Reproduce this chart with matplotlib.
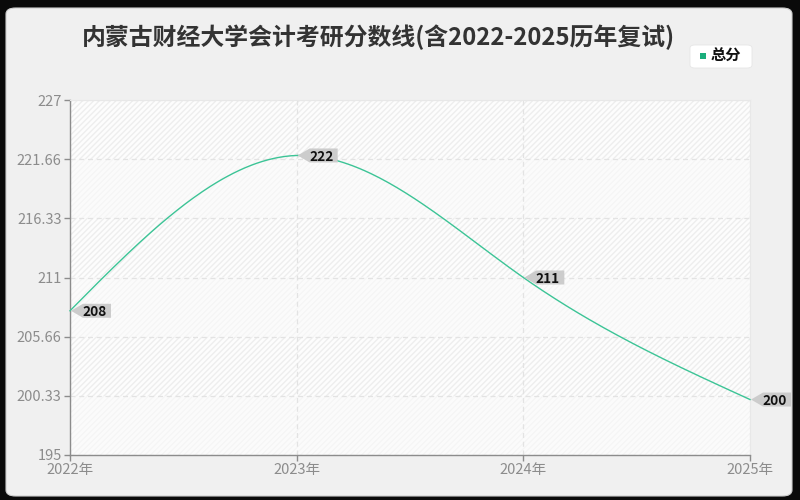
import numpy as np
import matplotlib
matplotlib.use('Agg')
import matplotlib.pyplot as plt
from matplotlib.patches import FancyBboxPatch, Polygon, Rectangle
import matplotlib.transforms as mtransforms

plt.rcParams['font.family'] = ['Noto Sans CJK SC', 'DejaVu Sans']

title = '内蒙古财经大学会计考研分数线(含2022-2025历年复试)'
years = [2022, 2023, 2024, 2025]
year_labels = ['2022年', '2023年', '2024年', '2025年']
scores = [208, 222, 211, 200]
y_ticks = [195, 200.33, 205.66, 211, 216.33, 221.66, 227]
y_tick_labels = ['195', '200.33', '205.66', '211', '216.33', '221.66', '227']
series_name = '总分'

line_color = '#3cc496'
W, H = 800, 500


def natural_spline(xs, ys, num=80):
    xs = np.asarray(xs, float)
    ys = np.asarray(ys, float)
    n = len(xs)
    h = np.diff(xs)
    A = np.zeros((n, n))
    rhs = np.zeros(n)
    A[0, 0] = 1
    A[-1, -1] = 1
    for i in range(1, n - 1):
        A[i, i - 1] = h[i - 1]
        A[i, i] = 2 * (h[i - 1] + h[i])
        A[i, i + 1] = h[i]
        rhs[i] = 6 * ((ys[i + 1] - ys[i]) / h[i] - (ys[i] - ys[i - 1]) / h[i - 1])
    M = np.linalg.solve(A, rhs)
    out_x, out_y = [], []
    for i in range(n - 1):
        t = np.linspace(xs[i], xs[i + 1], num)
        a = xs[i + 1] - t
        b = t - xs[i]
        s = (M[i] * a ** 3 + M[i + 1] * b ** 3) / (6 * h[i]) + \
            (ys[i] / h[i] - M[i] * h[i] / 6) * a + (ys[i + 1] / h[i] - M[i + 1] * h[i] / 6) * b
        out_x.extend(t)
        out_y.extend(s)
    return np.array(out_x), np.array(out_y)


fig = plt.figure(figsize=(8, 5), dpi=100)
fig.patch.set_facecolor('#0a0a0a')
bg = FancyBboxPatch((6 / W, 4 / H), 786 / W, 488 / H, boxstyle='round,pad=0,rounding_size=0.012',
                    transform=fig.transFigure, facecolor='#f0f0f0', edgecolor='#cfcfcf', lw=0.8,
                    zorder=-10)
fig.patches.append(bg)

ax = fig.add_axes([70 / W, 1 - 455 / H, 680 / W, 355 / H])
ax.set_facecolor('#fdfdfd')
ax.set_xlim(2022, 2025)
ax.set_ylim(195, 227)

# faint hatch over plot area, every other band lighter
hatch = Rectangle((0, 0), 1, 1, transform=ax.transAxes, facecolor='none',
                  edgecolor='#eeeeee', hatch='//////', lw=0, zorder=0)
ax.add_patch(hatch)
for i in range(0, len(y_ticks) - 1, 2):
    ax.axhspan(y_ticks[i], y_ticks[i + 1], color='#fbfbfb', alpha=0.6, lw=0, zorder=0.5)

for s in ['top', 'right']:
    ax.spines[s].set_color('#e8e8e8')
    ax.spines[s].set_linewidth(0.8)
for s in ['left', 'bottom']:
    ax.spines[s].set_color('#8c8c8c')
    ax.spines[s].set_linewidth(1)

ax.set_yticks(y_ticks)
ax.set_yticklabels(y_tick_labels)
ax.set_xticks(years)
ax.set_xticklabels(year_labels)
ax.tick_params(axis='both', colors='#8c8c8c', labelcolor='#8c8c8c', labelsize=10.5, length=4, width=1)
ax.tick_params(axis='y', pad=2)
ax.tick_params(axis='x', pad=1.5)
ax.grid(True, color='#e3e3e3', linestyle=(0, (4, 3)), lw=0.9, zorder=1)
ax.set_axisbelow(True)

cx, cy = natural_spline(years, scores)
ax.plot(cx, cy, color=line_color, lw=1, zorder=3, clip_on=False)

# value labels
for x, y in zip(years, scores):
    off = mtransforms.ScaledTranslation(x, y, ax.transData)
    tr = mtransforms.Affine2D().scale(1 / 100.0) + fig.dpi_scale_trans + off
    poly = Polygon([(1, 0), (13, 7), (41, 7), (41, -7), (13, -7)], closed=True,
                   transform=tr, facecolor='#cccccc', edgecolor='none', zorder=4, clip_on=False)
    ax.add_patch(poly)
    ax.text(12.5, 0, str(y), transform=tr, ha='left', va='center_baseline',
            fontsize=9.8, color='#111111', fontweight='bold', zorder=5, clip_on=False)

fig.text(378 / W, 1 - 37 / H, title, ha='center', va='center', fontsize=17.2,
         fontweight='bold', color='#333333')

# legend
leg = FancyBboxPatch((690 / W, 1 - 68 / H), 62 / W, 23 / H, boxstyle='round,pad=0,rounding_size=0.006',
                     transform=fig.transFigure, facecolor='white', edgecolor='#e6e6e6', lw=0.6)
fig.patches.append(leg)
fig.patches.append(Rectangle((699.5 / W, 1 - 59 / H), 6 / W, 6 / H, transform=fig.transFigure,
                             facecolor='#1aae7c', edgecolor='none'))
fig.text(711 / W, 1 - 56 / H, series_name, ha='left', va='center', fontsize=11,
         color='#111111', fontweight='bold')

fig.savefig('out.png', dpi=100, facecolor=fig.get_facecolor())
